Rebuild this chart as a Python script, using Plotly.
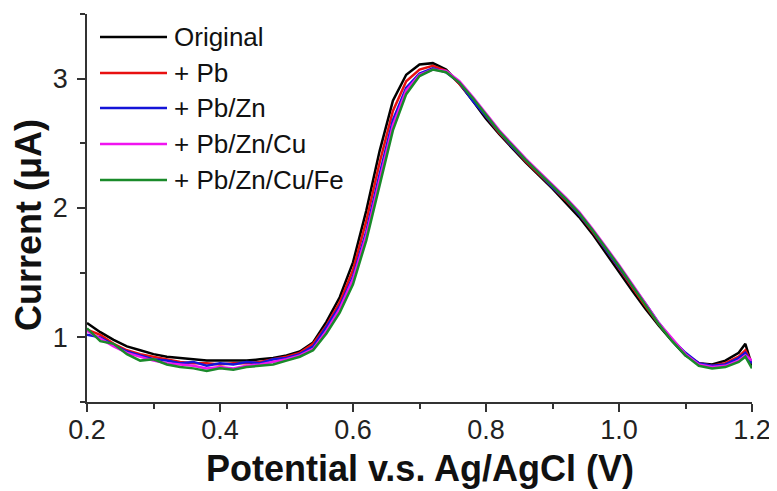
import plotly.graph_objects as go

# potential (V)
potential = [0.20, 0.22, 0.24, 0.26, 0.28, 0.30, 0.32, 0.34, 0.36, 0.38,
             0.40, 0.42, 0.44, 0.46, 0.48, 0.50, 0.52, 0.54, 0.56, 0.58,
             0.60, 0.62, 0.64, 0.66, 0.68, 0.70, 0.72, 0.74, 0.76, 0.78,
             0.80, 0.82, 0.84, 0.86, 0.88, 0.90, 0.92, 0.94, 0.96, 0.98,
             1.00, 1.02, 1.04, 1.06, 1.08, 1.10, 1.12, 1.14, 1.16, 1.18,
             1.19, 1.20]

# current (uA)
original = [1.11, 1.04, 0.98, 0.93, 0.90, 0.87, 0.85, 0.84, 0.83, 0.82,
            0.82, 0.82, 0.82, 0.83, 0.84, 0.86, 0.89, 0.96, 1.12, 1.31,
            1.58, 1.98, 2.44, 2.83, 3.03, 3.11, 3.12, 3.07, 2.96, 2.83,
            2.69, 2.57, 2.46, 2.35, 2.25, 2.15, 2.04, 1.93, 1.80, 1.65,
            1.50, 1.36, 1.22, 1.09, 0.97, 0.86, 0.80, 0.79, 0.82, 0.88,
            0.95, 0.78]
pb = [1.06, 1.02, 0.95, 0.90, 0.87, 0.85, 0.83, 0.81, 0.80, 0.80,
      0.79, 0.80, 0.80, 0.81, 0.83, 0.85, 0.88, 0.95, 1.09, 1.27,
      1.52, 1.90, 2.35, 2.75, 2.98, 3.07, 3.10, 3.06, 2.96, 2.84,
      2.71, 2.58, 2.47, 2.36, 2.26, 2.16, 2.06, 1.95, 1.82, 1.68,
      1.53, 1.39, 1.24, 1.10, 0.98, 0.87, 0.80, 0.78, 0.80, 0.85,
      0.90, 0.80]
pb_zn = [1.02, 1.00, 0.94, 0.89, 0.86, 0.83, 0.82, 0.80, 0.81, 0.78,
         0.80, 0.79, 0.81, 0.80, 0.83, 0.84, 0.87, 0.93, 1.08, 1.24,
         1.47, 1.82, 2.26, 2.68, 2.93, 3.04, 3.08, 3.05, 2.97, 2.83,
         2.71, 2.59, 2.47, 2.37, 2.27, 2.16, 2.07, 1.95, 1.83, 1.68,
         1.54, 1.40, 1.26, 1.11, 0.98, 0.88, 0.80, 0.78, 0.79, 0.84,
         0.88, 0.80]
pb_zn_cu = [1.05, 0.99, 0.93, 0.88, 0.85, 0.82, 0.80, 0.79, 0.78, 0.76,
            0.77, 0.76, 0.78, 0.79, 0.81, 0.83, 0.86, 0.91, 1.05, 1.22,
            1.45, 1.79, 2.22, 2.64, 2.91, 3.03, 3.07, 3.06, 2.98, 2.86,
            2.73, 2.60, 2.49, 2.38, 2.28, 2.18, 2.08, 1.97, 1.84, 1.70,
            1.56, 1.41, 1.26, 1.11, 0.99, 0.87, 0.79, 0.77, 0.78, 0.82,
            0.86, 0.82]
pb_zn_cu_fe = [1.07, 0.97, 0.95, 0.87, 0.82, 0.83, 0.79, 0.77, 0.76, 0.74,
               0.76, 0.75, 0.77, 0.78, 0.79, 0.82, 0.85, 0.90, 1.03, 1.19,
               1.41, 1.75, 2.18, 2.60, 2.88, 3.02, 3.07, 3.05, 2.97, 2.85,
               2.72, 2.59, 2.48, 2.37, 2.27, 2.17, 2.07, 1.96, 1.83, 1.69,
               1.55, 1.40, 1.25, 1.10, 0.97, 0.86, 0.78, 0.76, 0.77, 0.81,
               0.85, 0.76]

names = ["Original", "+ Pb", "+ Pb/Zn", "+ Pb/Zn/Cu", "+ Pb/Zn/Cu/Fe"]
colors = ["#000000", "#e81010", "#1414d8", "#f014f0", "#1a8a2a"]
series = [original, pb, pb_zn, pb_zn_cu, pb_zn_cu_fe]

font = "Arial, Liberation Sans, sans-serif"

# the page body has an 8px margin, so the figure is sized to the visible area
OFF = 8
W, H = 777 - OFF, 491 - OFF
L, R, T, B = 87 - OFF, 25, 14 - OFF, 89
pw, ph = W - L - R, H - T - B


def px_x(px):
    # screen pixel -> paper x
    return (px - OFF - L) / pw


def px_y(py):
    # screen pixel -> paper y
    return (H - B - (py - OFF)) / ph


fig = go.Figure()
for name, color, ys in zip(names, colors, series):
    fig.add_trace(go.Scatter(x=potential, y=ys, mode="lines", name=name,
                             showlegend=False,
                             line=dict(color=color, width=2.5)))

# legend drawn by hand so the sample lines are as long as in the original
leg_y = [37, 73, 108, 144, 180]
for name, color, yy in zip(names, colors, leg_y):
    fig.add_shape(type="line", xref="paper", yref="paper",
                  x0=px_x(100), x1=px_x(167), y0=px_y(yy), y1=px_y(yy),
                  line=dict(color=color, width=2.5))
    fig.add_annotation(text=name, xref="paper", yref="paper",
                       x=px_x(172), y=px_y(yy), xanchor="left",
                       yanchor="middle", showarrow=False,
                       font=dict(family=font, size=26, color="#111"))

axis_common = dict(showline=True, linecolor="#333", linewidth=1.5,
                   ticks="outside", tickcolor="#333", tickwidth=1.5,
                   ticklen=8, showgrid=False, zeroline=False,
                   tickfont=dict(family=font, size=27, color="#222"))

fig.update_xaxes(range=[0.2, 1.2], tickvals=[0.2, 0.4, 0.6, 0.8, 1.0, 1.2],
                 tickformat=".1f", ticklabelstandoff=-5,
                 minor=dict(dtick=0.1, ticks="outside", ticklen=5,
                            tickcolor="#333", tickwidth=1.5),
                 **axis_common)
fig.update_yaxes(range=[0.5, 3.5], tickvals=[1, 2, 3], ticklabelstandoff=4,
                 minor=dict(dtick=0.5, ticks="outside", ticklen=5,
                            tickcolor="#333", tickwidth=1.5),
                 **axis_common)

fig.add_annotation(text="<b>Potential v.s. Ag/AgCl (V)</b>", xref="paper",
                   yref="paper", x=0.5, y=px_y(468), xanchor="center",
                   yanchor="middle", showarrow=False,
                   font=dict(family=font, size=36, color="#111"))
fig.add_annotation(text="<b>Current (μA)</b>", xref="paper", yref="paper",
                   x=px_x(28), y=px_y(225), xanchor="center",
                   yanchor="middle", textangle=-90, showarrow=False,
                   font=dict(family=font, size=36, color="#111"))

fig.update_layout(
    width=W, height=H,
    margin=dict(l=L, r=R, t=T, b=B),
    plot_bgcolor="white", paper_bgcolor="white",
    showlegend=False,
)

fig.write_html("out.html")
